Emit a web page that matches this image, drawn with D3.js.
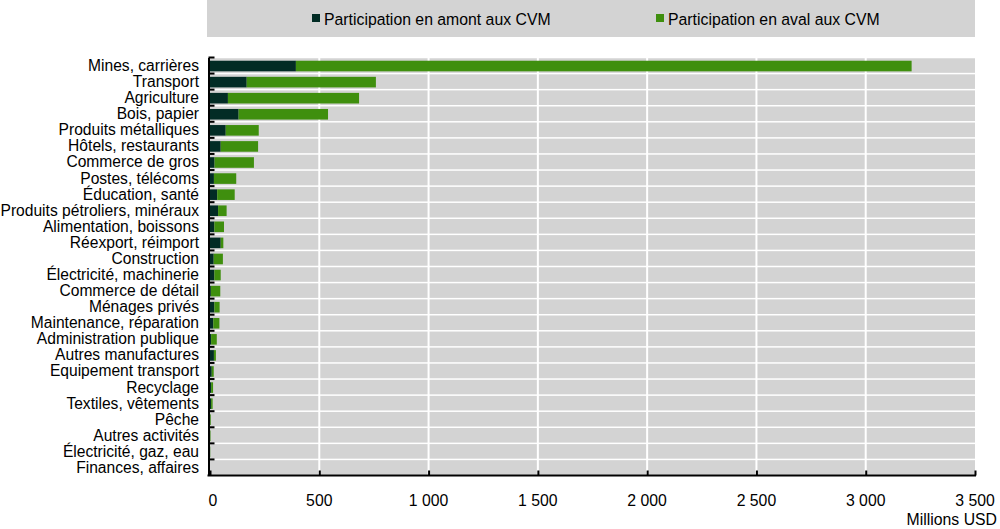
<!DOCTYPE html>
<html>
<head>
<meta charset="utf-8">
<script src="https://cdn.jsdelivr.net/npm/d3@7"></script>
<style>
  body { margin: 0; background: #fff; }
  svg text { font-family: "Liberation Sans Narrow", "Arial Narrow", "Liberation Sans", Arial, sans-serif; fill: #000; }
</style>
</head>
<body>
<svg id="chart" width="1000" height="529"></svg>
<script>
const categories = [
  "Mines, carrières", "Transport", "Agriculture", "Bois, papier", "Produits métalliques",
  "Hôtels, restaurants", "Commerce de gros", "Postes, télécoms", "Éducation, santé",
  "Produits pétroliers, minéraux", "Alimentation, boissons", "Réexport, réimport", "Construction",
  "Électricité, machinerie", "Commerce de détail", "Ménages privés", "Maintenance, réparation",
  "Administration publique", "Autres manufactures", "Equipement transport", "Recyclage",
  "Textiles, vêtements", "Pêche", "Autres activités", "Électricité, gaz, eau", "Finances, affaires"
];
const amont = [393, 168, 82, 131, 72, 49, 21, 18, 33, 37, 20, 49, 17, 20, 4, 20, 15, 5, 18, 8, 5, 5, 1, 0.5, 0.3, 0];
const aval  = [2817, 591, 600, 409, 151, 171, 180, 102, 80, 39, 44, 12, 42, 29, 43, 24, 28, 26, 9, 9, 9, 7, 3, 2, 1, 0];
const xTicks = [0, 500, 1000, 1500, 2000, 2500, 3000, 3500];
const seriesNames = ["Participation en amont aux CVM", "Participation en aval aux CVM"];
const colors = ["#022c25", "#3f8f0e"];

const svg = d3.select("#chart");
const mLeft = 210, mRight = 975, mTop = 57.5, mBottom = 475.5;

const x = d3.scaleLinear().domain([0, 3500]).range([mLeft, mRight]);
const y = d3.scaleBand().domain(categories).range([mTop, mBottom]).paddingInner(0).paddingOuter(0);

// Legend box
svg.append("rect").attr("x", 207).attr("y", 0).attr("width", 768).attr("height", 37).attr("fill", "#d3d3d3");
const legX = [312, 656];
seriesNames.forEach((n, i) => {
  svg.append("rect").attr("x", legX[i]).attr("y", 14).attr("width", 8).attr("height", 8).attr("fill", colors[i]);
  svg.append("g").attr("transform", `translate(${legX[i] + 12},24.5) scale(0.93,1)`)
    .append("text").attr("x", 0).attr("y", 0).attr("font-size", 17).text(n);
});

// Row backgrounds
svg.append("g").selectAll("rect").data(categories).join("rect")
  .attr("x", mLeft).attr("width", mRight - mLeft)
  .attr("y", d => y(d) + 0.75).attr("height", y.bandwidth() - 1.5)
  .attr("fill", "#d3d3d3");

// Vertical gridlines
svg.append("g").selectAll("line").data(xTicks.slice(1, -1)).join("line")
  .attr("x1", d => x(d)).attr("x2", d => x(d))
  .attr("y1", mTop).attr("y2", mBottom)
  .attr("stroke", "#fff").attr("stroke-width", 2);

// Stacked bars
const rows = categories.map((c, i) => ({cat: c, amont: amont[i], aval: aval[i]}));
const stack = d3.stack().keys(["amont", "aval"])(rows);
const barH = 10.6;
svg.append("g").selectAll("g").data(stack).join("g")
  .attr("fill", (d, i) => colors[i])
  .selectAll("rect").data(d => d).join("rect")
  .attr("x", d => x(d[0]))
  .attr("width", d => Math.max(0, x(d[1]) - x(d[0])))
  .attr("y", d => y(d.data.cat) + (y.bandwidth() - barH) / 2 + 0.5)
  .attr("height", barH);

// Left axis
const yAxis = d3.axisRight(y).tickSize(6).tickFormat("").tickSizeOuter(0);
const gy = svg.append("g").attr("transform", `translate(${mLeft - 1.5},0)`).call(yAxis);
gy.selectAll(".tick").attr("transform", d => `translate(0,${y(d)})`);
gy.selectAll("line").attr("stroke", "#000").attr("stroke-width", 2);
gy.select(".domain").attr("stroke", "#000").attr("stroke-width", 2);

// Category labels (condensed)
svg.append("g").attr("transform", "translate(199,0) scale(0.975,1)")
  .selectAll("text").data(categories).join("text")
  .attr("x", 0).attr("y", d => y(d) + y.bandwidth() / 2 + 5.5)
  .attr("text-anchor", "end").attr("font-size", 16)
  .text(d => d);

// Bottom axis
const xAxis = d3.axisTop(x).tickValues(xTicks).tickSize(5).tickFormat("").tickSizeOuter(0);
const gx = svg.append("g").attr("transform", `translate(0,${mBottom})`).call(xAxis);
gx.selectAll("line").attr("stroke", "#000").attr("stroke-width", 2);
gx.select(".domain").attr("stroke", "#000").attr("stroke-width", 2).attr("d", `M${mLeft - 2.5},0H${mRight + 1}`);

svg.append("g").selectAll("g").data(xTicks).join("g")
  .attr("transform", d => `translate(${x(d) + (d === 0 ? 3 : 0)},506) scale(0.93,1)`)
  .append("text").attr("text-anchor", "middle").attr("font-size", 17)
  .text(d => d >= 1000 ? d3.format(",")(d).replace(/,/g, " ") : String(d));

svg.append("g").attr("transform", "translate(997,525) scale(0.93,1)")
  .append("text").attr("text-anchor", "end").attr("font-size", 17).text("Millions USD");
</script>
</body>
</html>
